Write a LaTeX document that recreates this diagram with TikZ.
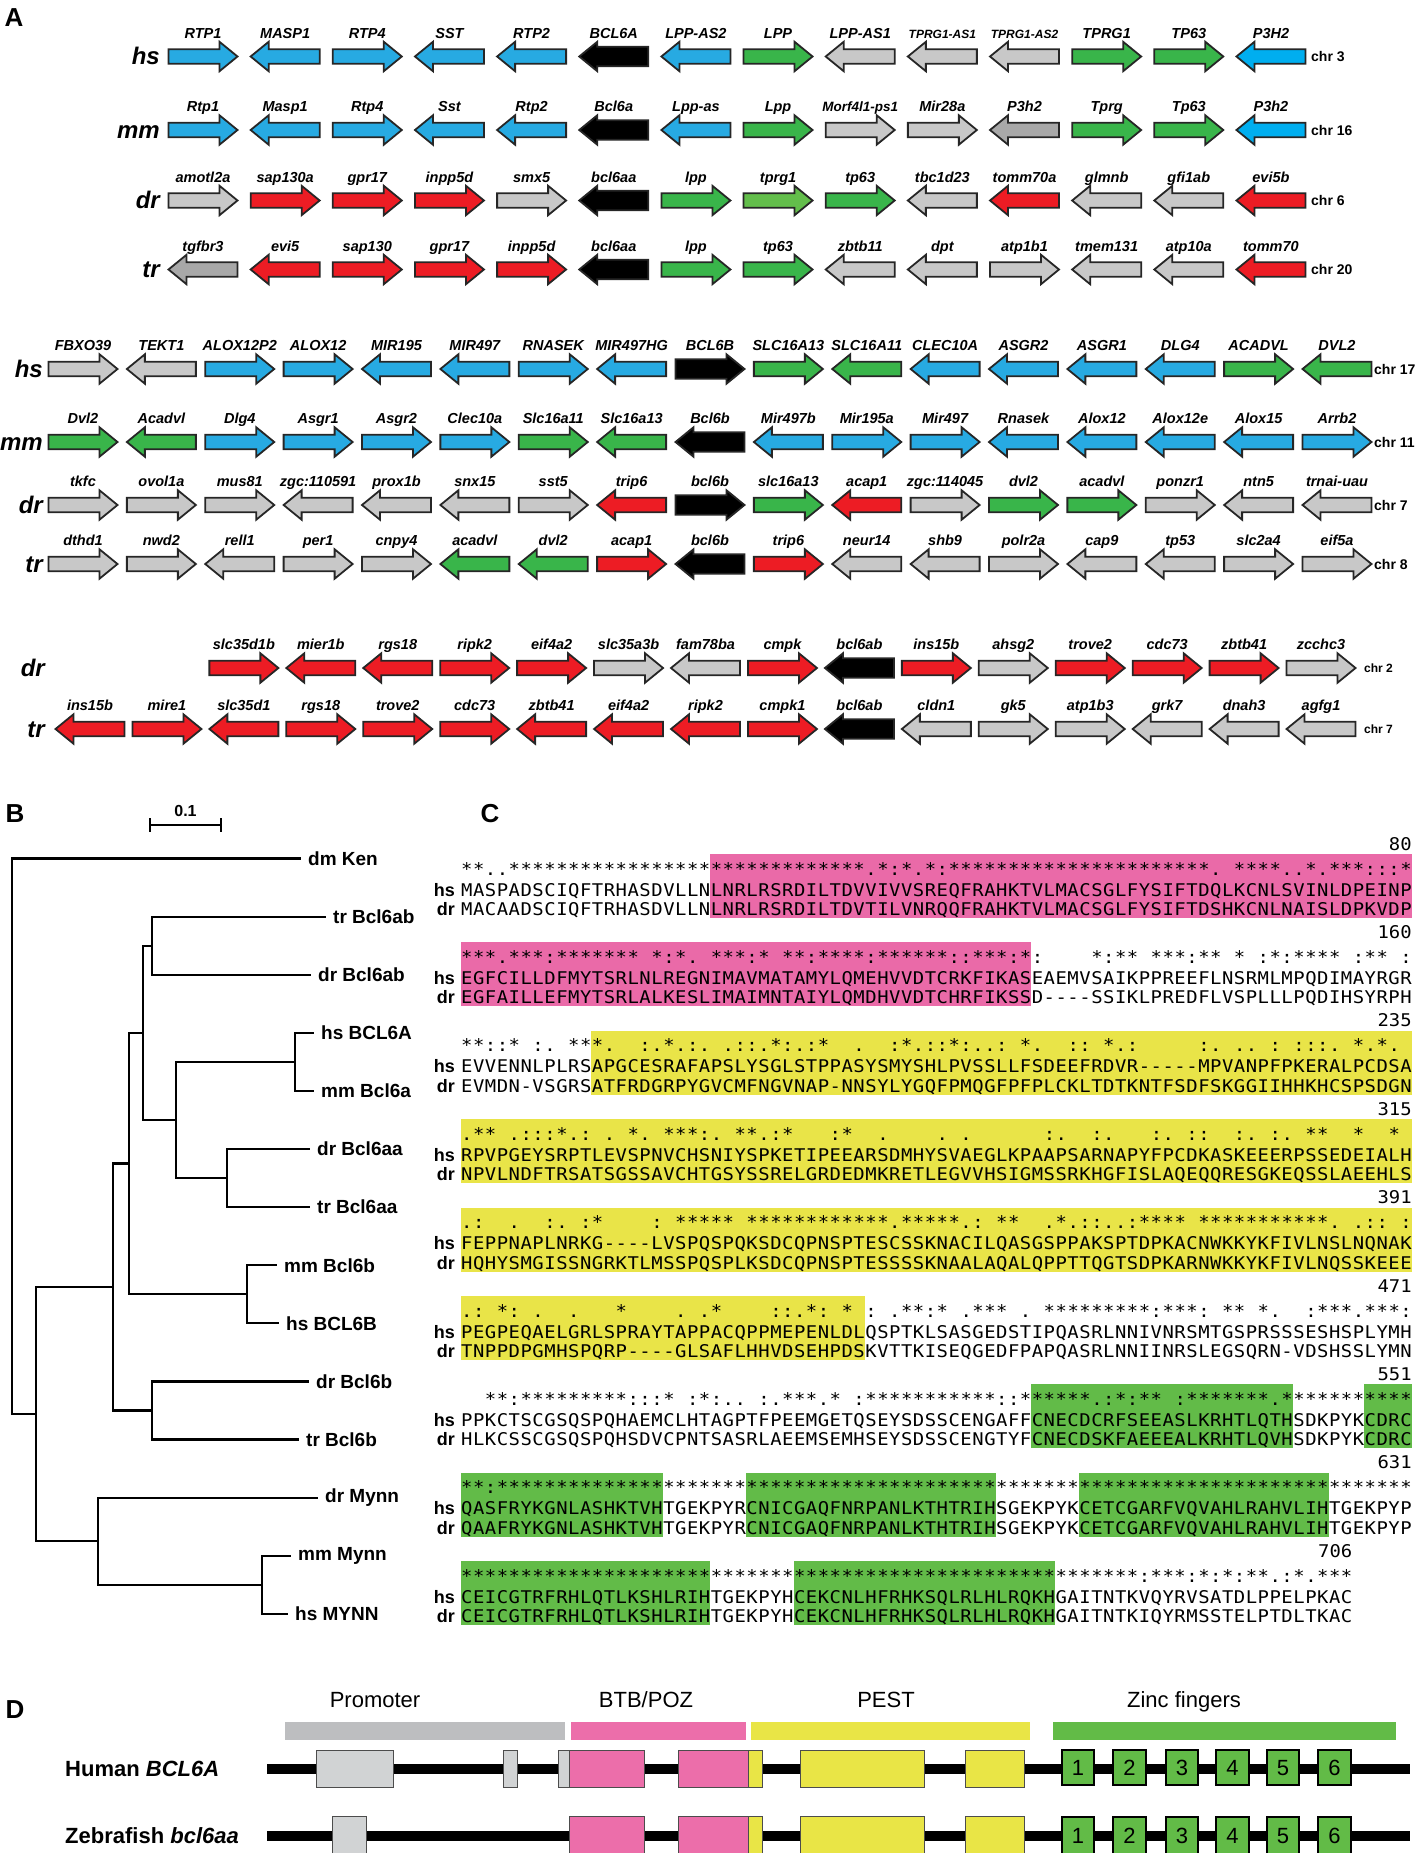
\documentclass[tikz,border=0pt]{standalone}
\usepackage{fontspec}
\setmainfont{Liberation Sans}
\newfontfamily\seqfont[FakeStretch=1.08]{DejaVu Sans Mono}
\definecolor{gb}{RGB}{39,170,226}
\definecolor{gc}{RGB}{0,174,239}
\definecolor{gg}{RGB}{57,181,74}
\definecolor{gl}{RGB}{99,190,75}
\definecolor{gr}{RGB}{237,28,36}
\definecolor{gy}{RGB}{200,200,200}
\definecolor{gd}{RGB}{168,168,168}
\definecolor{gk}{RGB}{0,0,0}
\definecolor{alpink}{RGB}{234,106,168}
\definecolor{alyel}{RGB}{233,228,72}
\definecolor{algrn}{RGB}{98,187,72}
\definecolor{dgray}{RGB}{189,190,192}
\definecolor{dbox}{RGB}{209,211,212}
\definecolor{dpink}{RGB}{236,110,170}
\definecolor{dyel}{RGB}{233,229,70}
\definecolor{dgrn}{RGB}{98,187,71}
\def\shaftgb{7.3}\def\shaftgc{7.3}\def\shaftgg{7.3}\def\shaftgl{7.3}
\def\shaftgr{7.3}\def\shaftgy{7.3}\def\shaftgd{7.3}\def\shaftgk{9.8}
\newcounter{gn}
\newcommand\garrow[5]{%
  \edef\gsh{\csname shaft#4\endcsname}%
  \begin{scope}[shift={(#1,#2)},xscale=#3]
    \draw[garr,fill=#4] (-34.5,-\gsh) -- (16.5,-\gsh) -- (16.5,-14.7) -- (34.5,0) -- (16.5,14.7) -- (16.5,\gsh) -- (-34.5,\gsh) -- cycle;
  \end{scope}
  \stepcounter{gn}%
  \node[glab] (g\arabic{gn}) at (#1,#2-18.5) {#5};
}
\newcommand\generow[5]{%
  \foreach \lab/\d/\c [count=\i from #4] in {#5} {\garrow{#1+#2*\i}{#3}{\d}{\c}{\lab}}}
\newlength\alncw \setlength\alncw{11.89pt}
\newcommand\alnbox[1]{\hbox to \alncw{\hfil#1\hfil}}
\ExplSyntaxOn
\bool_new:N \l_aln_s_bool
\bool_new:N \l_aln_w_bool
\tl_new:N \l_aln_a_tl
\tl_new:N \l_aln_b_tl
\tl_const:Nn \c_aln_strong_tl { {STA}{NEQK}{NHQK}{NDEQ}{QHRK}{MILV}{MILF}{HY}{FYW} }
\tl_const:Nn \c_aln_weak_tl { {CSA}{ATV}{SAG}{STNK}{STPA}{SGND}{SNDEQK}{NDEQHK}{NEQHRK}{FVLIM}{HFY} }
\cs_new_protected:Npn \aln_test:nnnN #1#2#3#4
  { \tl_if_in:nnT {#1} {#2} { \tl_if_in:nnT {#1} {#3} { \bool_set_true:N #4 } } }
\cs_generate_variant:Nn \aln_test:nnnN { nVVN }
\cs_new_protected:Npn \alnseq #1 { \tl_map_inline:nn {#1} { \alnbox {##1} } }
\cs_new_protected:Npn \alncons #1#2
  {
    \int_step_inline:nn { \tl_count:n {#1} }
      {
        \tl_set:Nx \l_aln_a_tl { \tl_item:nn {#1} {##1} }
        \tl_set:Nx \l_aln_b_tl { \tl_item:nn {#2} {##1} }
        \tl_if_eq:NNTF \l_aln_a_tl \l_aln_b_tl
          { \tl_if_eq:NnTF \l_aln_a_tl { - } { \alnbox { } } { \alnbox { * } } }
          {
            \bool_set_false:N \l_aln_s_bool
            \bool_set_false:N \l_aln_w_bool
            \tl_map_inline:Nn \c_aln_strong_tl { \aln_test:nVVN {####1} \l_aln_a_tl \l_aln_b_tl \l_aln_s_bool }
            \tl_map_inline:Nn \c_aln_weak_tl { \aln_test:nVVN {####1} \l_aln_a_tl \l_aln_b_tl \l_aln_w_bool }
            \bool_if:NTF \l_aln_s_bool { \alnbox { : } }
              { \bool_if:NTF \l_aln_w_bool { \alnbox { . } } { \alnbox { } } }
          }
      }
  }
\ExplSyntaxOff
% alignment block: #1 index, #2 hs baseline, #3 number, #4 number end char, #5 hs, #6 dr
\def\alnx{460.7}
\newcommand\alnblock[6]{%
  \node[seqn] (c#1) at (\alnx,#2-21) {\alncons{#5}{#6}};
  \node[seqn] (h#1) at (\alnx,#2) {\alnseq{#5}};
  \node[seqn] (d#1) at (\alnx,#2+19.5) {\alnseq{#6}};
  \node[spl] (sh#1) at (455,#2) {hs};
  \node[spl] (sd#1) at (455,#2+19.5) {dr};
  \node[numl] (n#1) at (\alnx+11.89*#4,#2-46) {#3};
}
\newcommand\hl[4]{% color, y, start, end
  \fill[#1] (\alnx+11.89*#3-11.89,#2-42) rectangle (\alnx+11.89*#4,#2+22);}
\begin{document}
\begin{tikzpicture}[x=1pt,y=-1pt,
  garr/.style={draw=black!85,line width=1.8pt,line join=miter},
  glab/.style={anchor=base,inner sep=0pt,font=\fontsize{14.5}{14.5}\selectfont\bfseries\itshape},
  spec/.style={anchor=base east,inner sep=0pt,font=\fontsize{24}{24}\selectfont\bfseries\itshape},
  chrl/.style={anchor=west,inner sep=0pt,font=\fontsize{14}{14}\selectfont\bfseries},
  panel/.style={inner sep=0pt,font=\fontsize{26}{26}\selectfont\bfseries},
  seqn/.style={anchor=base west,inner sep=0pt,font=\seqfont\fontsize{17.5}{17.5}\selectfont},
  numl/.style={anchor=base east,inner sep=0pt,font=\seqfont\fontsize{17.5}{17.5}\selectfont},
  spl/.style={anchor=base east,inner sep=0pt,font=\fontsize{18}{18}\selectfont\bfseries},
  tree/.style={line width=2.2pt,line cap=rect},
  leaf/.style={anchor=west,inner sep=0pt,font=\fontsize{19}{19}\selectfont\bfseries},
  dlab/.style={anchor=base,inner sep=0pt,font=\fontsize{22}{22}\selectfont},
  zf/.style={draw=black,line width=2pt,fill=dgrn},
  ebox/.style={draw=black!70,line width=0.8pt}]
\useasboundingbox (0,0) rectangle (1417,1853);
% ---------------- panel A ----------------
\node[panel] (pA) at (14,18) {A};
% block 1
\generow{203}{82.15}{56.5}{0}{RTP1/1/gb, MASP1/-1/gb, RTP4/1/gb, SST/-1/gb, RTP2/-1/gb, BCL6A/-1/gk, LPP-AS2/-1/gb, LPP/1/gg, LPP-AS1/-1/gy, {\fontsize{12}{12}\selectfont TPRG1-AS1}/-1/gy, {\fontsize{12}{12}\selectfont TPRG1-AS2}/-1/gy, TPRG1/1/gg, TP63/1/gg, P3H2/-1/gc}
\generow{203}{82.15}{130}{0}{Rtp1/1/gb, Masp1/-1/gb, Rtp4/1/gb, Sst/-1/gb, Rtp2/-1/gb, Bcl6a/-1/gk, Lpp-as/-1/gb, Lpp/1/gg, {\fontsize{13.5}{13.5}\selectfont Morf4l1-ps1}/1/gy, Mir28a/1/gy, P3h2/-1/gd, Tprg/1/gg, Tp63/1/gg, P3h2/-1/gc}
\generow{203}{82.15}{200.5}{0}{amotl2a/1/gy, sap130a/1/gr, gpr17/1/gr, inpp5d/1/gr, smx5/1/gy, bcl6aa/-1/gk, lpp/1/gg, tprg1/1/gl, tp63/1/gg, tbc1d23/-1/gy, tomm70a/-1/gr, glmnb/-1/gy, gfi1ab/-1/gy, evi5b/-1/gr}
\generow{203}{82.15}{269.5}{0}{tgfbr3/-1/gd, evi5/-1/gr, sap130/1/gr, gpr17/1/gr, inpp5d/1/gr, bcl6aa/-1/gk, lpp/1/gg, tp63/1/gg, zbtb11/-1/gy, dpt/-1/gy, atp1b1/1/gy, tmem131/-1/gy, atp10a/-1/gy, tomm70/-1/gr}
\node[spec] (s1) at (160,64.5) {hs};
\node[spec] (s2) at (160,138) {mm};
\node[spec] (s3) at (160,208.5) {dr};
\node[spec] (s4) at (160,277.5) {tr};
\node[chrl] (c1a) at (1311,56.5) {chr 3};
\node[chrl] (c1b) at (1311,130) {chr 16};
\node[chrl] (c1c) at (1311,200.5) {chr 6};
\node[chrl] (c1d) at (1311,269.5) {chr 20};
% block 2
\generow{83}{78.375}{369}{0}{FBXO39/1/gy, TEKT1/-1/gy, ALOX12P2/1/gb, ALOX12/1/gb, MIR195/-1/gb, MIR497/-1/gb, RNASEK/1/gb, MIR497HG/-1/gb, BCL6B/1/gk, SLC16A13/1/gg, SLC16A11/-1/gg, CLEC10A/-1/gb, ASGR2/-1/gb, ASGR1/-1/gb, DLG4/-1/gb, ACADVL/1/gg, DVL2/-1/gg}
\generow{83}{78.375}{442}{0}{Dvl2/1/gg, Acadvl/-1/gg, Dlg4/1/gb, Asgr1/1/gb, Asgr2/1/gb, Clec10a/1/gb, Slc16a11/1/gg, Slc16a13/-1/gg, Bcl6b/-1/gk, Mir497b/-1/gb, Mir195a/1/gb, Mir497/1/gb, Rnasek/-1/gb, Alox12/-1/gb, Alox12e/-1/gb, Alox15/-1/gb, Arrb2/1/gb}
\generow{83}{78.375}{505}{0}{tkfc/1/gy, ovol1a/1/gy, mus81/1/gy, zgc:110591/-1/gy, prox1b/-1/gy, snx15/-1/gy, sst5/1/gy, trip6/-1/gr, bcl6b/1/gk, slc16a13/1/gg, acap1/-1/gr, zgc:114045/1/gy, dvl2/1/gg, acadvl/1/gg, ponzr1/1/gy, ntn5/-1/gy, trnai-uau/-1/gy}
\generow{83}{78.375}{564}{0}{dthd1/1/gy, nwd2/1/gy, rell1/-1/gy, per1/1/gy, cnpy4/1/gy, acadvl/-1/gg, dvl2/-1/gg, acap1/1/gr, bcl6b/-1/gk, trip6/1/gr, neur14/-1/gy, shb9/-1/gy, polr2a/1/gy, cap9/-1/gy, tp53/-1/gy, slc2a4/1/gy, eif5a/1/gy}
\node[spec] (s5) at (43,377) {hs};
\node[spec] (s6) at (43,450) {mm};
\node[spec] (s7) at (43,513) {dr};
\node[spec] (s8) at (43,572) {tr};
\node[chrl] (c2a) at (1374,369) {chr 17};
\node[chrl] (c2b) at (1374,442) {chr 11};
\node[chrl] (c2c) at (1374,505) {chr 7};
\node[chrl] (c2d) at (1374,564) {chr 8};
% block 3
\generow{90}{76.94}{668}{2}{slc35d1b/1/gr, mier1b/-1/gr, rgs18/-1/gr, ripk2/1/gr, eif4a2/1/gr, slc35a3b/1/gy, fam78ba/-1/gy, cmpk/1/gr, bcl6ab/-1/gk, ins15b/1/gr, ahsg2/1/gy, trove2/1/gr, cdc73/1/gr, zbtb41/1/gr, zcchc3/1/gy}
\generow{90}{76.94}{729}{0}{ins15b/-1/gr, mire1/1/gr, slc35d1/-1/gr, rgs18/1/gr, trove2/1/gr, cdc73/1/gr, zbtb41/-1/gr, eif4a2/-1/gr, ripk2/-1/gr, cmpk1/1/gr, bcl6ab/-1/gk, cldn1/-1/gy, gk5/1/gy, atp1b3/1/gy, grk7/-1/gy, dnah3/-1/gy, agfg1/-1/gy}
\node[spec] (s9) at (45,676) {dr};
\node[spec] (s10) at (45,737) {tr};
\node[chrl,font=\fontsize{12}{12}\selectfont\bfseries] (c3a) at (1364,668) {chr 2};
\node[chrl,font=\fontsize{12}{12}\selectfont\bfseries] (c3b) at (1364,729) {chr 7};
% ---------------- panel B ----------------
\node[panel] (pB) at (15,814) {B};
\draw[line width=2pt] (150,825) -- (221,825) (150,818) -- (150,832) (221,818) -- (221,832);
\node[inner sep=0pt,font=\fontsize{16}{16}\selectfont\bfseries] (sb) at (185.5,811) {0.1};
\coordinate (root) at (12.3,1136.3);
\coordinate (n36) at (35.7,1414.08);
\coordinate (n113) at (113.3,1286.98);
\coordinate (n129) at (129.3,1163.5);
\coordinate (n143) at (142.7,1032.8);
\coordinate (nAb) at (152.3,945.65);
\coordinate (n176) at (176,1119.95);
\coordinate (nA) at (295,1061.85);
\coordinate (nAa) at (227.3,1178.05);
\coordinate (nB) at (247.3,1294.25);
\coordinate (nBf) at (152.3,1410.45);
\coordinate (nM) at (98.3,1541.18);
\coordinate (nM2) at (262.3,1584.75);
\foreach \nm/\tx/\ty/\txt in {Ken/300/858.5/dm Ken, trAb/325/916.6/tr Bcl6ab, drAb/310/974.7/dr Bcl6ab, hsA/313/1032.8/hs BCL6A, mmA/313/1090.9/mm Bcl6a, drAa/309/1149/dr Bcl6aa, trAa/309/1207.1/tr Bcl6aa, mmB/276/1265.2/mm Bcl6b, hsB/278/1323.3/hs BCL6B, drB/308/1381.4/dr Bcl6b, trB/298/1439.5/tr Bcl6b, drM/317/1497.6/dr Mynn, mmM/290/1555.7/mm Mynn, hsM/287/1613.8/hs MYNN}{
  \coordinate (t\nm) at (\tx,\ty);
  \node[leaf] (l\nm) at (\tx+8,\ty) {\txt};
}
\draw[tree] (root) |- (tKen);
\draw[tree] (root) |- (n36);
\draw[tree] (n36) |- (n113);
\draw[tree] (n36) |- (nM);
\draw[tree] (n113) |- (n129);
\draw[tree] (n113) |- (nBf);
\draw[tree] (n129) |- (n143);
\draw[tree] (n129) |- (nB);
\draw[tree] (n143) |- (nAb);
\draw[tree] (n143) |- (n176);
\draw[tree] (nAb) |- (ttrAb);
\draw[tree] (nAb) |- (tdrAb);
\draw[tree] (n176) |- (nA);
\draw[tree] (n176) |- (nAa);
\draw[tree] (nA) |- (thsA);
\draw[tree] (nA) |- (tmmA);
\draw[tree] (nAa) |- (tdrAa);
\draw[tree] (nAa) |- (ttrAa);
\draw[tree] (nB) |- (tmmB);
\draw[tree] (nB) |- (thsB);
\draw[tree] (nBf) |- (tdrB);
\draw[tree] (nBf) |- (ttrB);
\draw[tree] (nM) |- (tdrM);
\draw[tree] (nM) |- (nM2);
\draw[tree] (nM2) |- (tmmM);
\draw[tree] (nM2) |- (thsM);
% ---------------- panel C ----------------
\node[panel] (pC) at (490,814) {C};
\hl{alpink}{896}{22}{80}
\hl{alpink}{984.4}{1}{48}
\hl{alyel}{1072.8}{12}{80}
\hl{alyel}{1161.2}{1}{80}
\hl{alyel}{1249.6}{1}{80}
\hl{alyel}{1338}{1}{34}
\hl{algrn}{1426.4}{49}{70}
\hl{algrn}{1426.4}{77}{80}
\hl{algrn}{1514.8}{1}{17}
\hl{algrn}{1514.8}{25}{45}
\hl{algrn}{1514.8}{53}{73}
\hl{algrn}{1603.2}{1}{21}
\hl{algrn}{1603.2}{29}{50}
\alnblock{1}{896}{80}{80}{MASPADSCIQFTRHASDVLLNLNRLRSRDILTDVVIVVSREQFRAHKTVLMACSGLFYSIFTDQLKCNLSVINLDPEINP}{MACAADSCIQFTRHASDVLLNLNRLRSRDILTDVTILVNRQQFRAHKTVLMACSGLFYSIFTDSHKCNLNAISLDPKVDP}
\alnblock{2}{984.4}{160}{80}{EGFCILLDFMYTSRLNLREGNIMAVMATAMYLQMEHVVDTCRKFIKASEAEMVSAIKPPREEFLNSRMLMPQDIMAYRGR}{EGFAILLEFMYTSRLALKESLIMAIMNTAIYLQMDHVVDTCHRFIKSSD----SSIKLPREDFLVSPLLLPQDIHSYRPH}
\alnblock{3}{1072.8}{235}{80}{EVVENNLPLRSAPGCESRAFAPSLYSGLSTPPASYSMYSHLPVSSLLFSDEEFRDVR-----MPVANPFPKERALPCDSA}{EVMDN-VSGRSATFRDGRPYGVCMFNGVNAP-NNSYLYGQFPMQGFPFPLCKLTDTKNTFSDFSKGGIIHHKHCSPSDGN}
\alnblock{4}{1161.2}{315}{80}{RPVPGEYSRPTLEVSPNVCHSNIYSPKETIPEEARSDMHYSVAEGLKPAAPSARNAPYFPCDKASKEEERPSSEDEIALH}{NPVLNDFTRSATSGSSAVCHTGSYSSRELGRDEDMKRETLEGVVHSIGMSSRKHGFISLAQEQQRESGKEQSSLAEEHLS}
\alnblock{5}{1249.6}{391}{80}{FEPPNAPLNRKG----LVSPQSPQKSDCQPNSPTESCSSKNACILQASGSPPAKSPTDPKACNWKKYKFIVLNSLNQNAK}{HQHYSMGISSNGRKTLMSSPQSPLKSDCQPNSPTESSSSKNAALAQALQPPTTQGTSDPKARNWKKYKFIVLNQSSKEEE}
\alnblock{6}{1338}{471}{80}{PEGPEQAELGRLSPRAYTAPPACQPPMEPENLDLQSPTKLSASGEDSTIPQASRLNNIVNRSMTGSPRSSSESHSPLYMH}{TNPPDPGMHSPQRP----GLSAFLHHVDSEHPDSKVTTKISEQGEDFPAPQASRLNNIINRSLEGSQRN-VDSHSSLYMN}
\alnblock{7}{1426.4}{551}{80}{PPKCTSCGSQSPQHAEMCLHTAGPTFPEEMGETQSEYSDSSCENGAFFCNECDCRFSEEASLKRHTLQTHSDKPYKCDRC}{HLKCSSCGSQSPQHSDVCPNTSASRLAEEMSEMHSEYSDSSCENGTYFCNECDSKFAEEEALKRHTLQVHSDKPYKCDRC}
\alnblock{8}{1514.8}{631}{80}{QASFRYKGNLASHKTVHTGEKPYRCNICGAQFNRPANLKTHTRIHSGEKPYKCETCGARFVQVAHLRAHVLIHTGEKPYP}{QAAFRYKGNLASHKTVHTGEKPYRCNICGAQFNRPANLKTHTRIHSGEKPYKCETCGARFVQVAHLRAHVLIHTGEKPYP}
\alnblock{9}{1603.2}{706}{75}{CEICGTRFRHLQTLKSHLRIHTGEKPYHCEKCNLHFRHKSQLRLHLRQKHGAITNTKVQYRVSATDLPPELPKAC}{CEICGTRFRHLQTLKSHLRIHTGEKPYHCEKCNLHFRHKSQLRLHLRQKHGAITNTKIQYRMSSTELPTDLTKAC}
% ---------------- panel D ----------------
\node[panel] (pD) at (15,1710) {D};
\fill[dgray] (285,1722) rectangle (565,1740);
\fill[dpink] (571,1722) rectangle (746,1740);
\fill[dyel] (751,1722) rectangle (1030,1740);
\fill[dgrn] (1053,1722) rectangle (1396,1740);
\node[dlab] (hp) at (375,1707) {Promoter};
\node[dlab] (hb) at (646,1707) {BTB/POZ};
\node[dlab] (hpe) at (886,1707) {PEST};
\node[dlab] (hz) at (1184,1707) {Zinc fingers};
% human
\fill (267,1764) rectangle (1410,1774);
\draw[ebox,fill=dbox] (316,1750) rectangle (393,1787);
\draw[ebox,fill=dbox] (503,1750) rectangle (517,1787);
\draw[ebox,fill=dbox] (558,1750) rectangle (569,1787);
\draw[ebox,fill=dpink] (569,1750) rectangle (644,1787);
\draw[ebox,fill=dpink] (678,1750) rectangle (748,1787);
\draw[ebox,fill=dyel] (748,1750) rectangle (762,1787);
\draw[ebox,fill=dyel] (800,1750) rectangle (924,1787);
\draw[ebox,fill=dyel] (965,1750) rectangle (1024,1787);
% zebrafish
\fill (267,1831) rectangle (1410,1841);
\draw[ebox,fill=dbox] (332,1816) rectangle (366,1856);
\draw[ebox,fill=dpink] (569,1816) rectangle (644,1856);
\draw[ebox,fill=dpink] (678,1816) rectangle (748,1856);
\draw[ebox,fill=dyel] (748,1816) rectangle (762,1856);
\draw[ebox,fill=dyel] (800,1816) rectangle (924,1856);
\draw[ebox,fill=dyel] (965,1816) rectangle (1024,1856);
\foreach \xa/\xb [count=\k] in {1062/1094, 1113/1146, 1166/1198, 1216/1249, 1267/1299, 1318/1351}{
  \draw[zf] (\xa,1749.5) rectangle (\xb,1785);
  \node[inner sep=0pt,font=\fontsize{22}{22}\selectfont] (zh\k) at ({(\xa+\xb)/2},1768) {\k};
  \draw[zf] (\xa,1816.5) rectangle (\xb,1856);
  \node[inner sep=0pt,font=\fontsize{22}{22}\selectfont] (zz\k) at ({(\xa+\xb)/2},1836) {\k};
}
\node[anchor=base west,inner sep=0pt,font=\fontsize{22}{22}\selectfont\bfseries] (lh) at (65,1776) {Human \textit{BCL6A}};
\node[anchor=base west,inner sep=0pt,font=\fontsize{22}{22}\selectfont\bfseries] (lz) at (65,1843) {Zebrafish \textit{bcl6aa}};
\end{tikzpicture}
\end{document}
